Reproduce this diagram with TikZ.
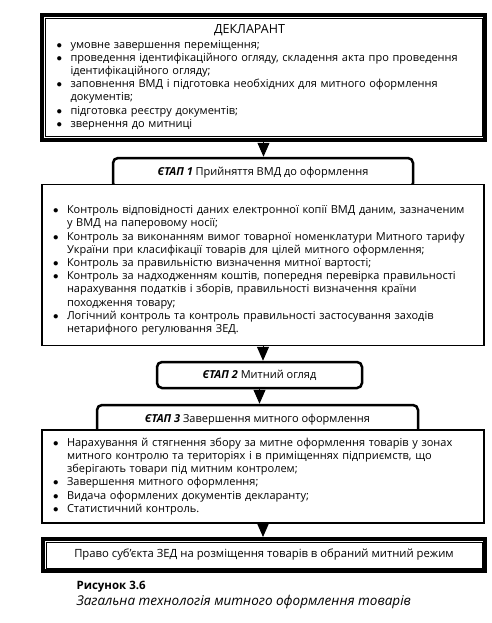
\documentclass[tikz,border=0pt]{standalone}
\usepackage{fontspec}
\setmainfont{Open Sans}
\usetikzlibrary{calc, arrows.meta}
\newcommand{\itm}[1]{\makebox[14pt][l]{$\bullet$}#1}
\newcommand{\cnt}[1]{\hspace*{14pt}#1}

\begin{document}
\begin{tikzpicture}[x=1pt, y=-1pt,
  frame/.style={draw, line width=4pt, inner sep=0pt, align=left, font=\fontsize{11}{13.2}\selectfont},
  stage/.style={draw, line width=2.5pt, rounded corners=5pt, fill=white, inner sep=0pt, font=\fontsize{11}{13}\selectfont},
  listbox/.style={draw, line width=1.2pt, fill=white, minimum width=442pt, inner sep=0pt, text width=420pt, align=left, font=\fontsize{11}{13.2}\selectfont},
  arr/.style={line width=1pt, -{Triangle[width=12pt,length=14pt]}}]
\useasboundingbox (0,0) rectangle (491,623);
\node[frame, minimum width=443pt, minimum height=124pt, text width=414pt] (decl) at (263.5,77.5) {\makebox[386pt]{\fontsize{12.5}{14}\selectfont ДЕКЛАРАНТ}\\[1pt]
\itm{умовне завершення переміщення;}\\
\itm{проведення ідентифікаційного огляду, складення акта про проведення}\\
\cnt{ідентифікаційного огляду;}\\
\itm{заповнення ВМД і підготовка необхідних для митного оформлення}\\
\cnt{документів;}\\
\itm{підготовка реєстру документів;}\\
\itm{звернення до митниці}};
\draw[line width=1pt] ($(decl.north west)+(5,5)$) rectangle ($(decl.south east)+(-5,-5)$);
\node[stage, minimum width=300pt, minimum height=30pt] (etap1) at (263,173) {\textbf{\textit{ЄТАП 1}} Прийняття ВМД до оформлення};
\node[listbox, minimum height=161pt] (list1) at (263,265) {\rule{0pt}{19pt}\itm{Контроль відповідності даних електронної копії ВМД даним, зазначеним}\\
\cnt{у ВМД на паперовому носії;}\\
\itm{Контроль за виконанням вимог товарної номенклатури Митного тарифу}\\
\cnt{України при класифікації товарів для цілей митного оформлення;}\\
\itm{Контроль за правильністю визначення митної вартості;}\\
\itm{Контроль за надходженням коштів, попередня перевірка правильності}\\
\cnt{нарахування податків і зборів, правильності визначення країни}\\
\cnt{походження товару;}\\
\itm{Логічний контроль та контроль правильності застосування заходів}\\
\cnt{нетарифного регулювання ЗЕД.}};
\node[stage, minimum width=205pt, minimum height=26pt] (etap2) at (259.5,375) {\textbf{\textit{ЄТАП 2}} Митний огляд};
\node[stage, minimum width=321pt, minimum height=30pt] (etap3) at (257.5,420) {\textbf{\textit{ЄТАП 3}} Завершення митного оформлення};
\node[listbox, minimum height=93pt] (list3) at (263,476.5) {\itm{Нарахування й стягнення збору за митне оформлення товарів у зонах}\\
\cnt{митного контролю та територіях і в приміщеннях підприємств, що}\\
\cnt{зберігають товари під митним контролем;}\\
\itm{Завершення митного оформлення;}\\
\itm{Видача оформлених документів декларанту;}\\
\itm{Статистичний контроль.}};
\node[frame, minimum width=442pt, minimum height=32pt, font=\fontsize{11.3}{13}\selectfont] (fin) at (264,555) {Право суб’єкта ЗЕД на розміщення товарів в обраний митний режим};
\draw[line width=1pt] ($(fin.north west)+(5,5)$) rectangle ($(fin.south east)+(-5,-5)$);
\draw[arr] (decl.south) -- (decl.south |- etap1.north);
\draw[arr] (list1.south) -- (list1.south |- etap2.north);
\draw[arr] (etap2.south) -- (etap2.south |- etap3.north);
\draw[arr] (list3.south) -- (list3.south |- fin.north);
\node[anchor=west, font=\bfseries\fontsize{11.5}{13}\selectfont] (fig) at (73,587) {Рисунок 3.6};
\node[anchor=west, font=\itshape\fontsize{13.5}{15}\selectfont] (caption) at (73,602) {Загальна технологія митного оформлення товарів};
\end{tikzpicture}
\end{document}
